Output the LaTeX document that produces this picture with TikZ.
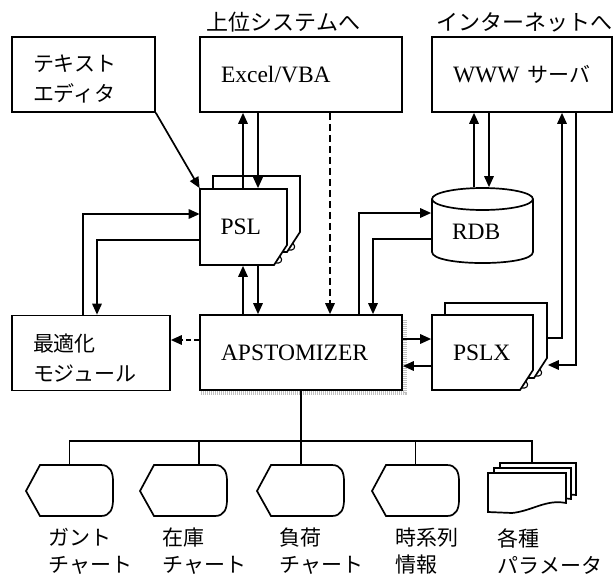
\documentclass[tikz,border=0pt]{standalone}
\usepackage{fontspec}
\setmainfont{Liberation Serif}
\newfontfamily\jp{Noto Sans CJK JP}
\usetikzlibrary{arrows.meta,calc}
\newcommand\mypage[4]{%
  \draw[fill=white] (#1,#2) -- (#3,#2) -- (#3,#4-20) -- (#3-13,#4) -- (#1,#4) -- cycle;
  \draw[line width=1.1pt] (#3-7,#4-9) .. controls (#3-3,#4-4) and (#3-7,#4-1) .. (#3-11.5,#4-2);}
\newcommand\dispshape[1]{%
  \draw[fill=white] (#1,491) -- (#1+14,465) -- (#1+75,465) .. controls (#1+84,465) and (#1+87,472) .. (#1+87,481)
    -- (#1+87,500) .. controls (#1+87,509) and (#1+84,516) .. (#1+75,516) -- (#1+14,516) -- cycle;}
\begin{document}
\begin{tikzpicture}[x=1pt,y=-1pt,
  line width=1.7pt,
  arr/.style={-{Triangle[length=11pt,width=9.5pt]}},
  box/.style={draw, fill=white, minimum height=75pt, inner xsep=21pt, inner ysep=0pt, align=left},
  plain/.style={draw=none, inner xsep=21pt, inner ysep=0pt, align=left},
  lat/.style={font=\fontsize{23.5}{28}\selectfont},
  jpt/.style={font=\jp\fontsize{21}{30}\selectfont},
  toplbl/.style={font=\jp\fontsize{22}{26}\selectfont, inner sep=0pt, anchor=west},
  botlbl/.style={font=\jp\fontsize{21}{27}\selectfont, inner sep=0pt, anchor=west, align=left},
  hidden/.style={draw=none, inner sep=0pt}
]
\useasboundingbox (0,0) rectangle (614,576);

% top labels
\node[toplbl] (lab1) at (206,22) {上位システムへ};
\node[toplbl] (lab2) at (436,22) {インターネットへ};

% boxes
\node[box, jpt, text width=101pt] (editor) at (83.5,74.5) {\rule{0pt}{25pt}テキスト\\エディタ};
\node[box, lat, text width=160pt] (excel) at (301,74.5) {Excel/VBA};
\node[box, lat, text width=138pt] (www) at (522,74.5) {WWW {\jp\fontsize{21}{21}\selectfont サーバ}};
\node[box, jpt, text width=116pt] (opt) at (91,353) {\rule{0pt}{27pt}最適化\\モジュール};

% APSTOMIZER with dotted shadow
\draw[gray!50, line width=4pt, dash pattern=on 1pt off 1pt] (405,320) -- (405,393) -- (200,393);
\node[box, lat, text width=160pt] (aps) at (301,352.5) {APSTOMIZER};

% PSL stacked pages
\mypage{213}{176}{300}{252}
\mypage{200}{189}{287}{265}
\node[plain, lat, text width=46pt, minimum height=76pt, inner xsep=20pt] (psl) at (243.5,227) {PSL};

% RDB cylinder
\fill[white] (432,199) -- (432,252) .. controls (432,266.7) and (533,266.7) .. (533,252) -- (533,199) -- cycle;
\draw (432,199) -- (432,252) .. controls (432,266.7) and (533,266.7) .. (533,252) -- (533,199);
\draw[fill=white] (482.5,199) ellipse [x radius=50.5pt, y radius=11pt];
\node[plain, lat, text width=61pt, minimum height=75pt, inner xsep=20pt, text height=30pt, text depth=1.4pt] (rdb) at (482.5,225.5) {RDB};

% PSLX stacked pages
\mypage{445}{303}{547}{378}
\mypage{432}{315}{533}{390}
\node[hidden, minimum width=102pt, minimum height=75pt] (pslxb) at (496,340.5) {};
\node[plain, lat, text width=59pt, minimum height=75pt] (pslx) at (482.5,352.5) {PSLX};

% display shapes
\dispshape{26}
\dispshape{140}
\dispshape{257}
\dispshape{372}
\node[hidden, minimum width=87pt, minimum height=51pt] (c1) at (69.5,490.5) {};
\node[hidden, minimum width=87pt, minimum height=51pt] (c2) at (183.5,490.5) {};
\node[hidden, minimum width=87pt, minimum height=51pt] (c3) at (300.5,490.5) {};
\node[hidden, minimum width=87pt, minimum height=51pt] (c4) at (415.5,490.5) {};

% parameter pages
\draw[fill=white] (500,463) -- (576,463) -- (576,495) .. controls (560,493) and (545,500) .. (530,503) -- (500,503) -- cycle;
\draw[fill=white] (494,468) -- (571,468) -- (571,499) .. controls (552,496) and (538,507) .. (520,508) -- (494,508) -- cycle;
\draw[fill=white] (488,473) -- (566,473) -- (566,503) .. controls (546,499) and (532,511) .. (512,513) -- (488,512) -- cycle;
\node[hidden, minimum width=88pt, minimum height=49pt] (param) at (532,487.5) {};

% bottom labels
\node[botlbl] (l1) at (48,551.5) {ガント\\チャート};
\node[botlbl] (l2) at (162,551.5) {在庫\\チャート};
\node[botlbl] (l3) at (279,551.5) {負荷\\チャート};
\node[botlbl] (l4) at (395,551.5) {時系列\\情報};
\node[botlbl] (l5) at (497,551.5) {各種\\パラメータ};

% helper coordinates
\coordinate (xA) at (243,0);
\coordinate (xB) at (258,0);
\coordinate (xD) at (330,0);
\coordinate (xR1) at (359,0);
\coordinate (xR2) at (373,0);
\coordinate (xW1) at (474,0);
\coordinate (xW2) at (489,0);
\coordinate (xW3) at (562,0);
\coordinate (xW4) at (576,0);
\coordinate (xO1) at (83,0);
\coordinate (xO2) at (97,0);
\coordinate (xC2) at (199,0);
\coordinate (yP1) at (0,214);
\coordinate (yP2) at (0,240);
\coordinate (yR1) at (0,213);
\coordinate (yR2) at (0,239);
\coordinate (yA1) at (0,340);
\coordinate (yX1) at (0,339);
\coordinate (yX2) at (0,366);
\coordinate (yW3) at (0,338);
\coordinate (yW4) at (0,365);
\coordinate (yB) at (0,441);

% connectors
\draw[arr] (editor.south east) -- (psl.north west);
\draw[arr] (psl.north -| xA) -- (excel.south -| xA);
\draw[arr] (excel.south -| xB) -- (psl.north -| xB);
\draw[arr, dash pattern=on 7pt off 4pt] (excel.south -| xD) -- (aps.north -| xD);
\draw[arr] (aps.north -| xA) -- (psl.south -| xA);
\draw[arr] (psl.south -| xB) -- (aps.north -| xB);
\draw[arr] (opt.north -| xO1) |- (psl.west |- yP1);
\draw[arr] (psl.west |- yP2) -| (opt.north -| xO2);
\draw[arr, dash pattern=on 5pt off 3pt] (aps.west |- yA1) -- (opt.east |- yA1);
\draw[arr] (aps.north -| xR1) |- (rdb.west |- yR1);
\draw[arr] (rdb.west |- yR2) -| (aps.north -| xR2);
\draw[arr] (rdb.north -| xW1) -- (www.south -| xW1);
\draw[arr] (www.south -| xW2) -- (rdb.north -| xW2);
\draw[arr] (aps.east |- yX1) -- (pslx.west |- yX1);
\draw[arr] (pslx.west |- yX2) -- (aps.east |- yX2);
\draw[arr] (pslxb.east |- yW3) -| (www.south -| xW3);
\draw[arr] (www.south -| xW4) |- (pslxb.east |- yW4);

% output tree
\draw (aps.south) -- (aps.south |- c3.north);
\draw (c1.north) -- (c1.north |- yB) -- (param.north |- yB) -- (param.north);
\draw (c2.north -| xC2) -- (xC2 |- yB);
\draw (c4.north) -- (c4.north |- yB);
\end{tikzpicture}
\end{document}
